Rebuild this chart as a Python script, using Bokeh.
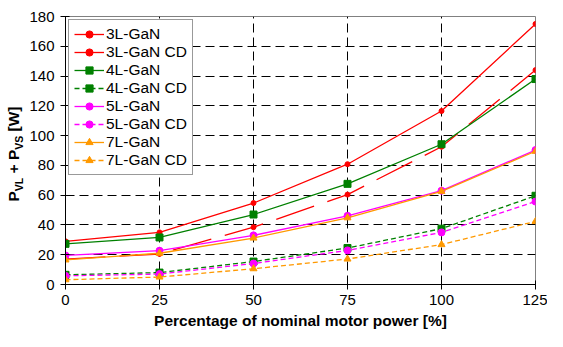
from bokeh.plotting import figure
from bokeh.layouts import row
from bokeh.models import Range1d, Legend, LegendItem, FixedTicker, Div
from bokeh.embed import file_html
from bokeh.resources import INLINE

# ---- data ----
x_pct = [0, 25, 50, 75, 100, 125]
l3_gan = [29, 35, 54.7, 80.8, 116.5, 175]
l3_gan_cd = [17, 20.5, 38.5, 60.4, 92.5, 144]
l4_gan = [27.3, 31.6, 47, 67.6, 94.2, 138]
l4_gan_cd = [6.5, 8, 15.4, 24.5, 37.5, 59.6]
l5_gan = [19.5, 22.7, 33, 46.1, 63, 90.3]
l5_gan_cd = [5.8, 7, 14.1, 22.9, 35, 55.7]
l7_gan = [16.5, 21, 31.2, 44.8, 62.6, 89.5]
l7_gan_cd = [3.2, 5, 10.6, 17.1, 26.8, 42.4]
x_ticks = [0, 25, 50, 75, 100, 125]
y_ticks = [0, 20, 40, 60, 80, 100, 120, 140, 160, 180]
y_label_parts = ["P", "VL", " + P", "VS", " [W]"]
y_label_is_sub = [False, True, False, True, False]

FONT = "Liberation Sans"
W, H = 547, 331
LW = 26  # width of the strip holding the y-axis title

# ---- y-axis title (rotated real text with subscripts) ----
inner = "".join(
    f'<sub style="font-size:10.5px;">{t}</sub>' if s else t.replace(" ", "&nbsp;")
    for t, s in zip(y_label_parts, y_label_is_sub))
ytitle = Div(
    text=(f'<div style="position:relative;width:{LW}px;height:{H}px;">'
          f'<div style="position:absolute;left:15px;top:154px;'
          f'transform:translate(-50%,-50%) rotate(-90deg);white-space:nowrap;'
          f"font-family:'{FONT}';font-size:15.5px;font-weight:bold;color:black;line-height:1;\">"
          f'{inner}</div></div>'),
    width=LW, height=H, margin=0)

# ---- main plot ----
p = figure(width=W - LW, height=H, output_backend="svg", toolbar_location=None,
           x_range=Range1d(0, 125), y_range=Range1d(0, 180),
           min_border_left=65 - LW, min_border_right=12, min_border_top=16, min_border_bottom=44)
p.background_fill_color = "white"
p.border_fill_color = "white"
p.outline_line_color = "#808080"
p.outline_line_width = 1

for ax, ticks in ((p.xaxis, x_ticks), (p.yaxis, y_ticks)):
    ax.ticker = FixedTicker(ticks=ticks)
    ax.minor_tick_line_color = None
    ax.major_tick_in = 4
    ax.major_tick_out = 5
    ax.axis_line_color = "black"
    ax.major_tick_line_color = "black"
    ax.major_label_text_font = FONT
    ax.major_label_text_font_size = "15px"
    ax.major_label_text_color = "black"

p.yaxis.major_label_standoff = 6
p.xaxis.major_label_standoff = 5
p.xaxis.axis_label = "Percentage of nominal motor power [%]"
p.xaxis.axis_label_text_font = FONT
p.xaxis.axis_label_text_font_size = "15.5px"
p.xaxis.axis_label_text_font_style = "bold"
p.xaxis.axis_label_text_color = "black"
p.xaxis.axis_label_standoff = 4

p.xgrid.ticker = FixedTicker(ticks=x_ticks)
p.ygrid.ticker = FixedTicker(ticks=y_ticks)
for g in (p.xgrid, p.ygrid):
    g.grid_line_color = "black"
    g.grid_line_dash = "9 5"
    g.grid_line_width = 1

series = [
    ("3L-GaN", l3_gan, "#FF0000", "solid", "circle", 5),
    ("3L-GaN CD", l3_gan_cd, "#FF0000", "40 14", "circle", 5),
    ("4L-GaN", l4_gan, "#008000", "solid", "square", 7),
    ("4L-GaN CD", l4_gan_cd, "#008000", "5 3", "square", 7),
    ("5L-GaN", l5_gan, "#FF00FF", "solid", "circle", 7),
    ("5L-GaN CD", l5_gan_cd, "#FF00FF", "5 3", "circle", 7),
    ("7L-GaN", l7_gan, "#FF9900", "solid", "triangle", 7),
    ("7L-GaN CD", l7_gan_cd, "#FF9900", "5 3", "triangle", 7),
]

items = []
for name, ys, col, dash, marker, size in series:
    r1 = p.line(x_pct, ys, line_color=col, line_width=1.3, line_dash=dash)
    r2 = p.scatter(x_pct, ys, marker=marker, size=size, fill_color=col, line_color=col)
    items.append(LegendItem(label=name, renderers=[r1, r2]))

legend = Legend(items=items, location="top_left", margin=3, padding=5, spacing=0,
                label_text_font=FONT, label_text_font_size="15.5px", label_text_color="black",
                label_height=18, glyph_height=18, glyph_width=30, label_standoff=2,
                border_line_color="#333333", border_line_width=1,
                background_fill_color="white", background_fill_alpha=1)
p.add_layout(legend, "center")

layout = row(ytitle, p, spacing=0)
open("out.html", "w").write(file_html(layout, INLINE))
